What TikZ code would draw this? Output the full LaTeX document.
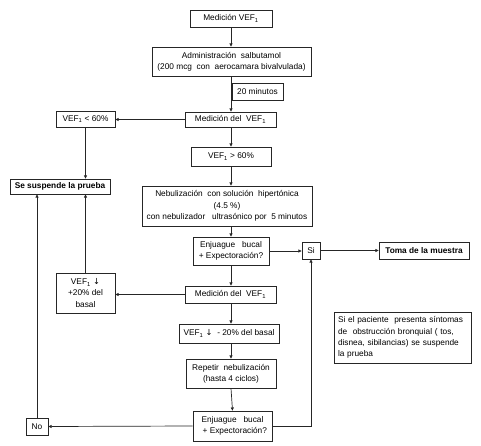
\documentclass[tikz,border=0pt]{standalone}
\usepackage{fontspec}
\setmainfont{Liberation Sans}
\newfontfamily\arrfont{DejaVu Sans}
\usetikzlibrary{arrows.meta,calc}
\newcommand{\vef}{VEF\textsubscript{1}}
\newcommand{\dnarr}{{\arrfont ↓}}
\begin{document}
\begin{tikzpicture}[x=1pt,y=-1pt,
  box/.style={draw=black!85,line width=0.7pt,inner sep=0pt,align=center,
    font=\fontsize{8.3}{11.2}\selectfont},
  arr/.style={draw=black!85,line width=0.7pt,-{Triangle[length=3.2pt,width=3pt]}},
  ln/.style={draw=black!85,line width=0.7pt}]
\useasboundingbox (0,0) rectangle (481,446);
\node[box,minimum width=82pt,minimum height=17pt] (n1) at (231,18.5) {Medición \vef};
\node[box,minimum width=159pt,minimum height=29pt] (n2) at (231.5,61.5) {Administración\ \ salbutamol\\(200 mcg\ \ con\ \ aerocamara bivalvulada)};
\node[box,minimum width=51pt,minimum height=17pt] (n3) at (257.5,91.5) {20 minutos};
\node[box,minimum width=91pt,minimum height=15pt] (n4) at (230.5,119.5) {Medición del\ \ \vef};
\node[box,minimum width=59pt,minimum height=16pt] (n5) at (85.5,119) {\vef\ {<} 60\%};
\node[box,minimum width=80pt,minimum height=19pt] (n6) at (231,156.5) {\vef\ {>} 60\%};
\node[box,minimum width=100pt,minimum height=15pt,font=\fontsize{8.3}{11.2}\selectfont\bfseries] (n7) at (60,186.5) {Se suspende la prueba};
\node[box,minimum width=170pt,minimum height=40pt] (n8) at (227,206) {Nebulización\ \ con solución\ \ hipertónica\\(4.5 \%)\\con nebulizador\ \ \ ultrasónico por\ \ 5 minutos};
\node[box,minimum width=76pt,minimum height=28pt] (n9) at (231,251) {Enjuague\ \ \ bucal\\+ Expectoración?};
\node[box,minimum width=18pt,minimum height=17pt] (n10) at (311,250.5) {Si};
\node[box,minimum width=90pt,minimum height=17pt,font=\fontsize{8.3}{11.2}\selectfont\bfseries] (n11) at (424,250.5) {Toma de la muestra};
\node[box,minimum width=59pt,minimum height=40pt] (n12) at (85.5,293) {\vef\ \dnarr\\+20\% del\\basal};
\node[box,minimum width=91pt,minimum height=17pt] (n13) at (230.5,294.5) {Medición del\ \ \vef};
\node[box,minimum width=100pt,minimum height=19pt] (n14) at (229,333.5) {\vef\ \dnarr\ \ - 20\% del basal};
\node[box,minimum width=90pt,minimum height=29pt] (n15) at (231,373.5) {Repetir\ \ nebulización\\(hasta 4 ciclos)};
\node[box,minimum width=79pt,minimum height=30pt] (n16) at (232.5,426) {Enjuague\ \ \ bucal\\\ \ + Expectoración?};
\node[box,minimum width=22pt,minimum height=17pt] (n17) at (37,426.5) {No};
\node[box,minimum width=137pt,minimum height=51pt,align=left,text width=129pt] (n18) at (402.5,337.5) {Si el paciente\ \ presenta síntomas\\de\ \ obstrucción bronquial\ ( tos,\\disnea,\ sibilancias) se suspende\\la prueba};
% connectors
\draw[arr] (n1.south -| 231,0) -- (231,0 |- n2.north);
\draw[arr] (231,0 |- n2.south) -- (231,0 |- n4.north);
\draw[arr] (n4.west) -- (n4.west -| n5.east);
\draw[arr] (n5.south) -- (n5.south |- n7.north);
\draw[arr] (231,0 |- n4.south) -- (231,0 |- n6.north);
\draw[arr] (n6.south) -- (n6.south |- n8.north);
\draw[arr] (n8.south -| n9) -- (n9.north);
\draw[arr] (n9.east) -- (n9.east -| n10.west);
\draw[arr] (n10.east) -- (n10.east -| n11.west);
\draw[arr] (n9.south) -- (n9.south |- n13.north);
\draw[arr] (n13.west) -- (n13.west -| n12.east);
\draw[arr] (n12.north) -- (n12.north |- n7.south);
\draw[arr] (231,0 |- n13.south) -- (231,0 |- n14.north);
\draw[arr] (231,0 |- n14.south) -- (231,0 |- n15.north);
\draw[arr] (n15.south) -- (n16.north);
\draw[arr] (n16.west) -- (n17.east);
\draw[arr] (n17.north) -- (n17.north |- n7.south);
\draw[arr] (n16.east) -| (n10.south);
\end{tikzpicture}
\end{document}
